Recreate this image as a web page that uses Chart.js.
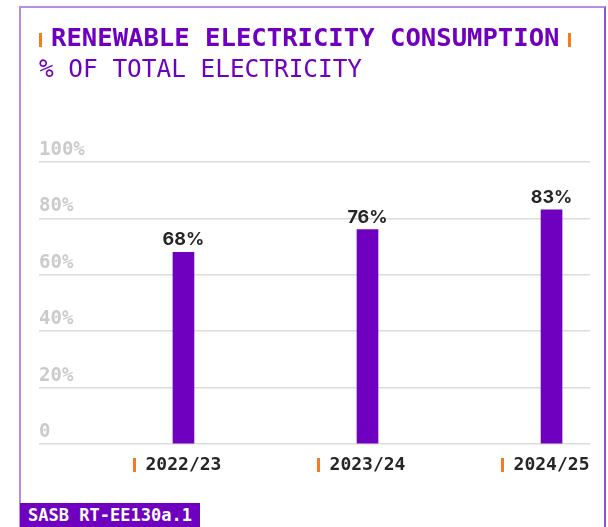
<!DOCTYPE html>
<html>
<head>
<meta charset="utf-8">
<script src="https://cdn.jsdelivr.net/npm/chart.js@4.4.0/dist/chart.umd.min.js"></script>
<style>
  html, body { margin: 0; padding: 0; background: #fff; }
  body { width: 608px; height: 527px; position: relative; overflow: hidden; }
  #frame { position: absolute; left: 19px; top: 6px; width: 587px; height: 600px; box-sizing: border-box;
           border-left: 2px solid #b98de4; border-top: 2px solid #b98de4; border-right: 2px solid #9050d8; }
  .mono { font-family: "DejaVu Sans Mono", monospace; }
  #title { position: absolute; left: 51px; top: 25px; font-size: 25.6px; line-height: 25.6px; font-weight: bold; color: #7000c0; white-space: nowrap; }
  #subtitle { position: absolute; left: 39px; top: 57px; font-size: 24.4px; line-height: 24.4px; color: #7000c0; white-space: nowrap; }
  .mark { position: absolute; width: 3px; height: 14px; background: #f47b20; }
  #badge { position: absolute; left: 20px; top: 503px; width: 180px; height: 24px; background: #7000c0; color: #fff;
           font-size: 17px; line-height: 24px; font-weight: bold; text-align: center; white-space: nowrap; }
  #c { position: absolute; left: 0; top: 0; }
</style>
</head>
<body>
<div id="frame"></div>
<canvas id="c" width="608" height="527"></canvas>
<div class="mark" style="left:39px; top:33px;"></div>
<div id="title" class="mono">RENEWABLE ELECTRICITY CONSUMPTION</div>
<div class="mark" style="left:568px; top:33px;"></div>
<div id="subtitle" class="mono">% OF TOTAL ELECTRICITY</div>
<div id="badge" class="mono">SASB RT-EE130a.1</div>
<script>
const categories = ['2022/23', '2023/24', '2024/25'];
const renewableShare = [68, 76, 83];
const yTickLabels = ['0', '20%', '40%', '60%', '80%', '100%'];

const PURPLE = '#7000c0';
const ORANGE = '#f47b20';
const MONO = '"DejaVu Sans Mono", monospace';

const valueLabels = {
  id: 'valueLabels',
  afterDatasetsDraw(chart) {
    const ctx = chart.ctx;
    const meta = chart.getDatasetMeta(0);
    ctx.save();
    ctx.font = '700 18px Inter, sans-serif';
    ctx.fillStyle = '#262626';
    ctx.textAlign = 'center';
    ctx.textBaseline = 'alphabetic';
    meta.data.forEach((bar, i) => {
      ctx.fillText(renewableShare[i] + '%', bar.x, bar.y - 7);
    });
    ctx.restore();
  }
};

const tickMarks = {
  id: 'tickMarks',
  afterDraw(chart) {
    const ctx = chart.ctx;
    const xs = chart.scales.x;
    ctx.save();
    ctx.font = 'bold 18px ' + MONO;
    ctx.fillStyle = ORANGE;
    xs.ticks.forEach((t, i) => {
      const px = xs.getPixelForValue(t.value);
      const w = ctx.measureText(categories[i]).width;
      ctx.fillRect(Math.round(px - w / 2 - 13), 458, 3, 14);
    });
    ctx.restore();
  }
};

new Chart(document.getElementById('c'), {
  type: 'bar',
  data: {
    datasets: [{
      data: categories.map((c, i) => ({ x: i + 1, y: renewableShare[i] })),
      backgroundColor: PURPLE,
      borderWidth: 0,
      barThickness: 21
    }]
  },
  plugins: [valueLabels, tickMarks],
  options: {
    responsive: false,
    animation: false,
    events: [],
    layout: { padding: { left: 39, right: 18, top: 162, bottom: 43 } },
    plugins: { legend: { display: false }, tooltip: { enabled: false }, title: { display: false } },
    scales: {
      x: {
        type: 'linear',
        offset: false,
        min: 0.215,
        max: 3.209,
        grid: { display: false, drawTicks: false, offset: false },
        border: { display: false },
        afterBuildTicks: (s) => { s.ticks = categories.map((c, i) => ({ value: i + 1 })); },
        afterFit: (s) => { s.height = 40; },
        ticks: {
          autoSkip: false,
          maxRotation: 0,
          padding: 11,
          color: '#262626',
          font: { family: MONO, size: 18, weight: 'bold' },
          callback: (v) => categories[v - 1]
        }
      },
      y: {
        min: 0,
        max: 100,
        grid: { color: '#dcdcdc', lineWidth: 1.5, drawTicks: false },
        border: { display: false },
        afterFit: (s) => { s.width = 0; },
        ticks: {
          stepSize: 20,
          mirror: true,
          padding: 0,
          labelOffset: -12,
          color: '#cbcbcb',
          font: { family: MONO, size: 19, weight: 'bold' },
          callback: (v, i) => yTickLabels[i]
        }
      }
    }
  }
});
</script>
</body>
</html>
